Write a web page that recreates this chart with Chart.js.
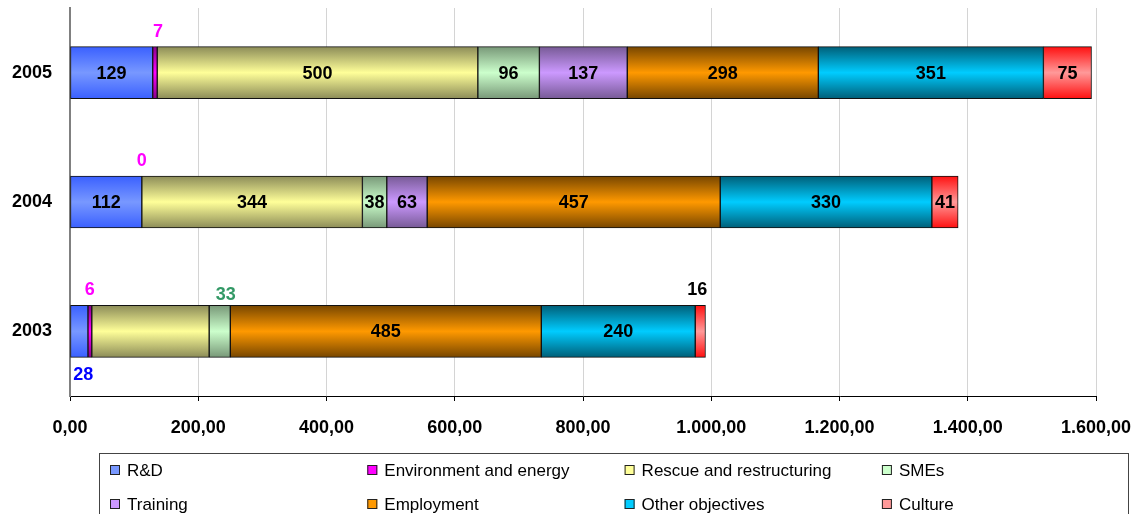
<!DOCTYPE html>
<html lang="en">

<head>
	<meta charset="UTF-8">
	<title>State aid by objective</title>
	<script src="https://cdn.jsdelivr.net/npm/chart.js"></script>
	<style>
		html, body { margin: 0; padding: 0; background: #fff; }
		#wrap { width: 1132px; height: 514px; }
	</style>
</head>

<body>
	<div id="wrap"><canvas id="aidChart"></canvas></div>
	<script>
	const years = ['2005', '2004', '2003'];
	const objectives = ['R&D', 'Environment and energy', 'Rescue and restructuring', 'SMEs', 'Training', 'Employment', 'Other objectives', 'Culture'];

	const rnd = [129, 112, 28];
	const environment = [7, 0, 6];
	const rescue = [500, 344, 183];
	const smes = [96, 38, 33];
	const training = [137, 63, 0];
	const employment = [298, 457, 485];
	const otherObjectives = [351, 330, 240];
	const culture = [75, 41, 16];

	const xTicks = [0, 200, 400, 600, 800, 1000, 1200, 1400, 1600];

	const series = [rnd, environment, rescue, smes, training, employment, otherObjectives, culture];

	// [edge, centre] colours for the shaded bars
	const shades = [
		['#3a60ff', '#7898ff'],
		['#8a008a', '#ff00ff'],
		['#8c8c58', '#ffff99'],
		['#789878', '#ccffcc'],
		['#775a96', '#cc99ff'],
		['#774600', '#ff9900'],
		['#005f78', '#00ccff'],
		['#ff1010', '#ff9999']
	];

	const BAR = 52;

	// value labels that sit outside the bar or are left out
	const labelStyle = {
		'1:0': { pos: 'above', color: '#ff00ff', dx: 3 },
		'1:1': { pos: 'above', color: '#ff00ff' },
		'1:2': { pos: 'above', color: '#ff00ff' },
		'0:2': { pos: 'below', color: '#0000ff', dx: 4 },
		'3:2': { pos: 'above', color: '#339966', dx: 6, dy: 5 },
		'7:2': { pos: 'above', color: '#000', dx: -3 },
		'2:2': { hide: true },
		'4:2': { hide: true }
	};

	function formatNumber(v) {
		const whole = String(Math.round(v)).replace(/\B(?=(\d{3})+(?!\d))/g, '.');
		return whole + ',00';
	}

	function barFill(i) {
		return (ctx) => {
			const chart = ctx.chart;
			const y = chart.scales.y;
			if(!y || ctx.dataIndex === undefined) return shades[i][1];
			const yc = y.getPixelForValue(ctx.dataIndex);
			if(!isFinite(yc)) return shades[i][1];
			const g = chart.ctx.createLinearGradient(0, yc - BAR / 2, 0, yc + BAR / 2);
			g.addColorStop(0, shades[i][0]);
			g.addColorStop(0.5, shades[i][1]);
			g.addColorStop(1, shades[i][0]);
			return g;
		};
	}

	const valueLabels = {
		id: 'valueLabels',
		afterDatasetsDraw(chart) {
			const c = chart.ctx;
			c.save();
			c.font = 'bold 18px Arial, "Liberation Sans", sans-serif';
			c.textAlign = 'center';
			c.textBaseline = 'middle';
			chart.data.datasets.forEach((ds, i) => {
				chart.getDatasetMeta(i).data.forEach((bar, j) => {
					const st = labelStyle[i + ':' + j] || {};
					if(st.hide) return;
					const v = ds.data[j];
					if(v === 0 && !st.pos) return;
					const x = (bar.x + bar.base) / 2 + (st.dx || 0);
					let y = bar.y;
					if(st.pos === 'above') y = bar.y - BAR / 2 - 16 + (st.dy || 0);
					if(st.pos === 'below') y = bar.y + BAR / 2 + 17;
					c.fillStyle = st.color || '#000';
					c.fillText(String(v), x, y + 1);
				});
			});
			c.restore();
		}
	};

	const boxLegend = {
		id: 'boxLegend',
		afterDraw(chart) {
			const c = chart.ctx;
			c.save();
			c.strokeStyle = '#444';
			c.lineWidth = 1;
			c.strokeRect(99.5, 453.5, 1029, 80);
			c.font = '17px Arial, "Liberation Sans", sans-serif';
			c.textBaseline = 'middle';
			c.textAlign = 'left';
			objectives.forEach((name, i) => {
				const col = i % 4;
				const row = Math.floor(i / 4);
				const x = 110 + col * 257.3;
				const y = 470 + row * 34;
				c.fillStyle = shades[i][1];
				c.fillRect(x, y - 5, 10, 10);
				c.strokeStyle = '#222';
				c.strokeRect(x + 0.5, y - 4.5, 9, 9);
				c.fillStyle = '#000';
				c.fillText(name, x + 17, y + 1);
			});
			c.restore();
		}
	};

	new Chart(document.getElementById('aidChart'), {
		type: 'bar',
		data: {
			labels: years,
			datasets: objectives.map((name, i) => ({
				label: name,
				data: series[i],
				backgroundColor: barFill(i),
				borderColor: '#111',
				borderWidth: 1,
				borderSkipped: false,
				barThickness: BAR
			}))
		},
		options: {
			indexAxis: 'y',
			responsive: true,
			maintainAspectRatio: false,
			animation: false,
			layout: { padding: { top: 8, right: 36, bottom: 78, left: 0 } },
			plugins: {
				legend: { display: false },
				tooltip: { enabled: false }
			},
			scales: {
				x: {
					stacked: true,
					min: 0,
					max: 1600,
					afterBuildTicks: (axis) => { axis.ticks = xTicks.map(v => ({ value: v })); },
					afterFit: (axis) => {
						axis.height = 40;
						axis.paddingLeft = 0;
						axis.paddingRight = 0;
					},
					grid: { color: '#d4d4d4', tickColor: '#000', tickLength: 5 },
					border: { color: '#000', width: 1 },
					ticks: {
						color: '#000',
						padding: 16,
						maxRotation: 0,
						font: { family: 'Arial, "Liberation Sans", sans-serif', size: 18, weight: 'bold' },
						callback: (v) => formatNumber(v)
					}
				},
				y: {
					stacked: true,
					afterFit: (axis) => {
						axis.width = 70;
						axis.paddingTop = 0;
						axis.paddingBottom = 0;
					},
					grid: { display: false, drawTicks: false },
					border: { color: '#808080', width: 2 },
					ticks: {
						color: '#000',
						padding: 18,
						font: { family: 'Arial, "Liberation Sans", sans-serif', size: 18, weight: 'bold' }
					}
				}
			}
		},
		plugins: [valueLabels, boxLegend]
	});
	</script>
</body>

</html>
